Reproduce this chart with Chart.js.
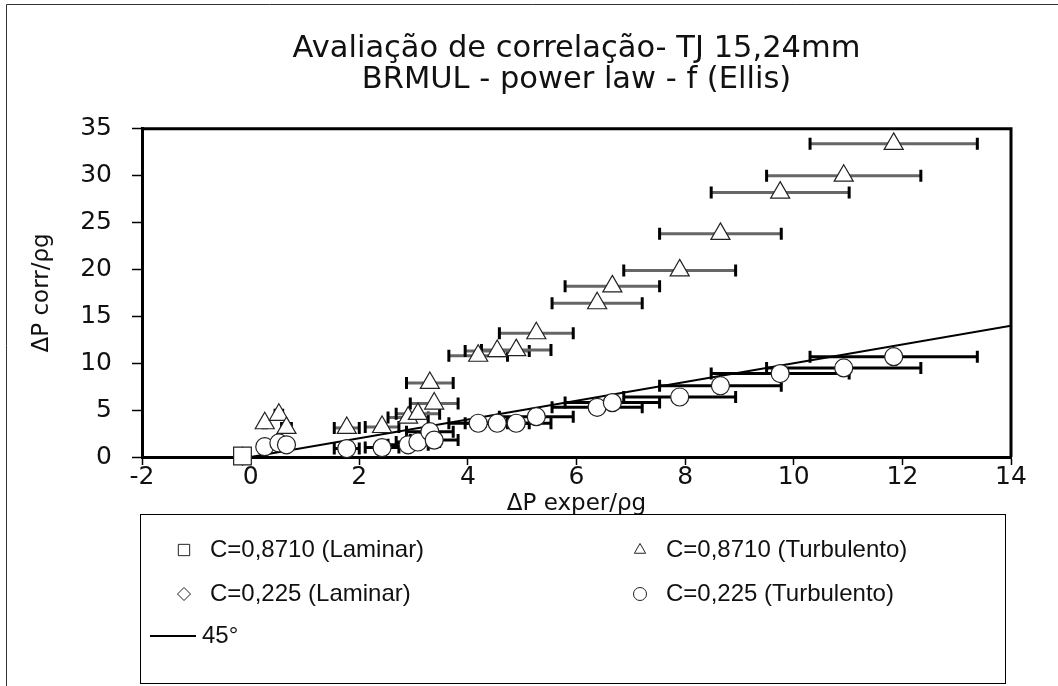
<!DOCTYPE html>
<html>
<head>
<meta charset="utf-8">
<script src="https://cdn.jsdelivr.net/npm/chart.js@4.4.0/dist/chart.umd.min.js"></script>
<style>
html, body { margin: 0; padding: 0; background: #fff; }
#wrap { width: 1058px; height: 686px; position: relative; }
</style>
</head>
<body>
<div id="wrap"><canvas id="grafico" width="1058" height="686"></canvas></div>
<script>
// dados (TJ 15,24mm, BRMUL)
var titulo = ['Avaliação de correlação- TJ 15,24mm', 'BRMUL - power law - f (Ellis)'];
var nomes = ['C=0,8710 (Laminar)', 'C=0,8710 (Turbulento)', 'C=0,225 (Laminar)', 'C=0,225 (Turbulento)', '45°'];

// laminar
var xLam = [-0.15];
var yLam0871 = [0.1];
var yLam0225 = [0.1];

// turbulento: mesmo ΔP exper para as duas constantes
var xTurb = [0.26, 0.52, 0.66, 1.77, 2.42, 2.90, 3.08, 3.30, 3.38, 4.19, 4.54, 4.89, 5.26, 6.38, 6.66, 7.90, 8.65, 9.75, 10.92, 11.84];
var yTurb0871 = [3.6, 4.5, 3.1, 3.1, 3.2, 4.2, 4.6, 7.9, 5.7, 10.8, 11.3, 11.4, 13.2, 16.4, 18.2, 19.9, 23.8, 28.2, 30.0, 33.4];
var yTurb0225 = [1.1, 1.5, 1.3, 0.9, 1.0, 1.3, 1.6, 2.7, 1.8, 3.6, 3.6, 3.6, 4.3, 5.3, 5.8, 6.4, 7.6, 8.9, 9.5, 10.7];
var errTurb = [0.03, 0.07, 0.09, 0.23, 0.31, 0.37, 0.40, 0.43, 0.44, 0.54, 0.59, 0.64, 0.68, 0.83, 0.87, 1.03, 1.12, 1.27, 1.42, 1.54];

// reta de 45 graus
var x45 = [0, 14];
var y45 = [0, 14];

// eixos
var xTicks = [-2, 0, 2, 4, 6, 8, 10, 12, 14];
var yTicks = [0, 5, 10, 15, 20, 25, 30, 35];

function pares(xs, ys) {
    return xs.map(function(x, i) { return { x: x, y: ys[i] }; });
}

// barras de erro horizontais
var barrasErro = {
    id: 'barrasErro',
    beforeDatasetsDraw: function(chart) {
        var ctx = chart.ctx;
        var xs = chart.scales.x, ys = chart.scales.y;
        chart.data.datasets.forEach(function(ds) {
            if (!ds.errX) return;
            ds.data.forEach(function(p, i) {
                var x1 = xs.getPixelForValue(p.x - ds.errX[i]);
                var x2 = xs.getPixelForValue(p.x + ds.errX[i]);
                var y = ys.getPixelForValue(p.y);
                ctx.save();
                ctx.strokeStyle = ds.errColor;
                ctx.lineWidth = 3;
                ctx.beginPath();
                ctx.moveTo(x1, y);
                ctx.lineTo(x2, y);
                ctx.stroke();
                ctx.strokeStyle = '#000';
                ctx.beginPath();
                ctx.moveTo(x1, y - 6); ctx.lineTo(x1, y + 6);
                ctx.moveTo(x2, y - 6); ctx.lineTo(x2, y + 6);
                ctx.stroke();
                ctx.restore();
            });
        });
    }
};

// moldura da área do gráfico, moldura externa e legenda em caixa
var molduras = {
    id: 'molduras',
    beforeDraw: function(chart) {
        var ctx = chart.ctx;
        ctx.save();
        ctx.fillStyle = '#fff';
        ctx.fillRect(0, 0, chart.width, chart.height);
        ctx.strokeStyle = '#333';
        ctx.lineWidth = 1;
        ctx.beginPath();
        ctx.moveTo(6.5, chart.height);
        ctx.lineTo(6.5, 4.5);
        ctx.lineTo(chart.width, 4.5);
        ctx.stroke();
        ctx.restore();
    },
    afterDraw: function(chart) {
        var ctx = chart.ctx;
        var a = chart.chartArea;
        ctx.save();
        ctx.strokeStyle = '#000';
        ctx.lineWidth = 3;
        ctx.beginPath();
        ctx.moveTo(a.left, a.top);
        ctx.lineTo(a.right, a.top);
        ctx.lineTo(a.right, a.bottom);
        ctx.stroke();

        // legenda: duas colunas, três linhas
        var box = { left: 140, top: 514, right: 1005, bottom: 683 };
        ctx.lineWidth = 1;
        ctx.strokeRect(box.left + 0.5, box.top + 0.5, box.right - box.left, box.bottom - box.top);
        var linhas = [550, 594, 636];
        var colunas = [184, 640];
        var pos = [[0, 0], [0, 1], [1, 0], [1, 1], [2, 0]];
        ctx.font = '24px "Liberation Sans", Arial, sans-serif';
        ctx.textBaseline = 'middle';
        ctx.textAlign = 'left';
        chart.data.datasets.forEach(function(ds, i) {
            var lx = colunas[pos[i][1]];
            var ly = linhas[pos[i][0]];
            ctx.fillStyle = '#fff';
            ctx.strokeStyle = '#222';
            ctx.lineWidth = 1;
            if (ds.showLine) {
                ctx.lineWidth = 2;
                ctx.strokeStyle = '#000';
                ctx.beginPath();
                ctx.moveTo(lx - 34, ly);
                ctx.lineTo(lx + 12, ly);
                ctx.stroke();
                ctx.fillStyle = '#111';
                ctx.fillText(ds.label, lx + 18, ly);
            } else {
                Chart.helpers.drawPoint(ctx, {
                    pointStyle: ds.pointStyle,
                    radius: ds.pointStyle === 'rect' ? 8 : 6.5,
                    rotation: 0,
                    borderWidth: 1
                }, lx, ly);
                ctx.fillStyle = '#111';
                ctx.fillText(ds.label, lx + 26, ly);
            }
        });
        ctx.restore();
    }
};

var estiloPonto = {
    backgroundColor: '#fff',
    borderColor: '#222',
    borderWidth: 1.2,
    clip: false
};

var ctx = document.getElementById('grafico');
var chart = new Chart(ctx, {
    type: 'scatter',
    data: {
        datasets: [
            Object.assign({
                label: nomes[0],
                data: pares(xLam, yLam0871),
                pointStyle: 'rect',
                pointRadius: 12.5
            }, estiloPonto),
            Object.assign({
                label: nomes[1],
                data: pares(xTurb, yTurb0871),
                pointStyle: 'triangle',
                pointRadius: 11,
                errX: errTurb,
                errColor: '#666'
            }, estiloPonto),
            Object.assign({
                label: nomes[2],
                data: pares(xLam, yLam0225),
                pointStyle: 'rectRot',
                pointRadius: 9
            }, estiloPonto),
            Object.assign({
                label: nomes[3],
                data: pares(xTurb, yTurb0225),
                pointStyle: 'circle',
                pointRadius: 9,
                errX: errTurb,
                errColor: '#000'
            }, estiloPonto),
            {
                label: nomes[4],
                data: pares(x45, y45),
                showLine: true,
                borderColor: '#000',
                borderWidth: 2,
                pointRadius: 0,
                fill: false
            }
        ]
    },
    options: {
        responsive: false,
        animation: false,
        devicePixelRatio: 1,
        layout: {
            padding: { left: 0, top: 0, right: 47, bottom: 167 }
        },
        scales: {
            x: {
                type: 'linear',
                min: -2,
                max: 14,
                afterBuildTicks: function(scale) {
                    scale.ticks = xTicks.map(function(v) { return { value: v }; });
                },
                afterFit: function(scale) { scale.height = 62; },
                border: { display: true, color: '#000', width: 3 },
                grid: { display: true, drawOnChartArea: false, drawTicks: true, tickLength: 8, tickColor: '#000', tickWidth: 1.5 },
                ticks: {
                    color: '#111',
                    padding: 0,
                    maxRotation: 0,
                    font: { family: 'DejaVu Sans', size: 25, lineHeight: 1 }
                },
                title: {
                    display: true,
                    text: 'ΔP exper/ρg',
                    color: '#111',
                    padding: { top: 0, bottom: 1 },
                    font: { family: 'DejaVu Sans', size: 23 }
                }
            },
            y: {
                type: 'linear',
                min: 0,
                max: 35,
                afterBuildTicks: function(scale) {
                    scale.ticks = yTicks.map(function(v) { return { value: v }; });
                },
                afterFit: function(scale) { scale.width = 142; },
                border: { display: true, color: '#000', width: 3 },
                grid: { display: true, drawOnChartArea: false, drawTicks: true, tickLength: 10, tickColor: '#000', tickWidth: 1.5 },
                ticks: {
                    color: '#111',
                    padding: 20,
                    font: { family: 'DejaVu Sans', size: 25, lineHeight: 1 }
                },
                title: {
                    display: true,
                    text: 'ΔP corr/ρg',
                    color: '#111',
                    padding: { top: 28, bottom: 0 },
                    font: { family: 'DejaVu Sans', size: 23 }
                }
            }
        },
        plugins: {
            legend: { display: false },
            tooltip: { enabled: false },
            title: {
                display: true,
                fullSize: false,
                text: titulo,
                color: '#111',
                padding: { top: 33, bottom: 33 },
                font: { family: 'DejaVu Sans', size: 30.5, weight: 'normal', lineHeight: 1.03 }
            }
        }
    },
    plugins: [molduras, barrasErro]
});
</script>
</body>
</html>
